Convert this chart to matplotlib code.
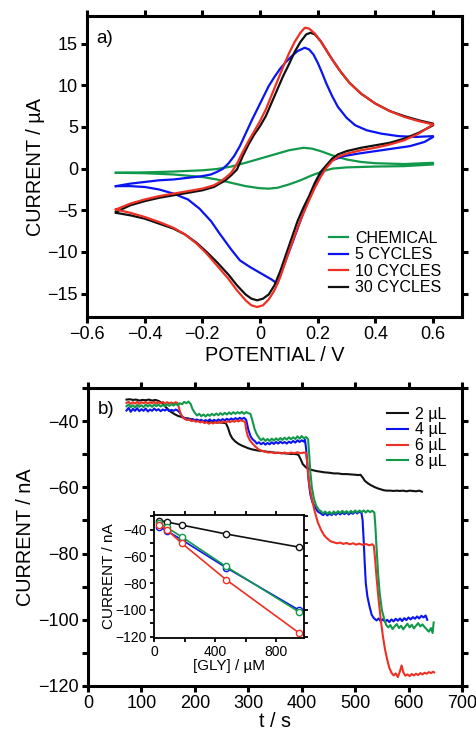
import matplotlib
matplotlib.use("Agg")
import matplotlib.pyplot as plt
from matplotlib.ticker import MultipleLocator, FuncFormatter

plt.rcParams['font.family'] = ['Liberation Sans', 'DejaVu Sans']

# ---------- panel a) cyclic voltammograms (forward scan then reverse scan) ----------
chem_E = [-0.50, -0.40, -0.30, -0.20, -0.15, -0.10, -0.05, 0.00, 0.05, 0.10, 0.15, 0.18, 0.21, 0.25, 0.30,
          0.35, 0.40, 0.50, 0.60,
          0.60, 0.50, 0.40, 0.30, 0.25, 0.22, 0.18, 0.14, 0.10, 0.06, 0.03, 0.00, -0.05, -0.10, -0.15,
          -0.20, -0.30, -0.40, -0.50]
chem_I = [-0.5, -0.45, -0.35, -0.2, -0.05, 0.25, 0.7, 1.2, 1.7, 2.2, 2.5, 2.4, 2.1, 1.6, 1.1,
          0.8, 0.65, 0.55, 0.7,
          0.5, 0.3, 0.25, 0.15, 0.0, -0.3, -0.8, -1.4, -1.9, -2.3, -2.4, -2.35, -2.1, -1.7, -1.3,
          -1.0, -0.7, -0.55, -0.5]

c5_E = [-0.50, -0.45, -0.40, -0.35, -0.30, -0.25, -0.20, -0.17, -0.15, -0.13, -0.11, -0.09, -0.07, -0.05,
        -0.03, -0.01, 0.01, 0.03, 0.05, 0.07, 0.09, 0.11, 0.13, 0.155, 0.17, 0.185, 0.20, 0.215, 0.23,
        0.25, 0.27, 0.30, 0.33, 0.37, 0.42, 0.48, 0.54, 0.60,
        0.60, 0.57, 0.52, 0.46, 0.40, 0.34, 0.29, 0.25, 0.23, 0.21, 0.19, 0.17, 0.15, 0.13, 0.11, 0.09,
        0.07, 0.06, 0.04, 0.02, 0.00, -0.035, -0.07, -0.10, -0.14, -0.17, -0.21, -0.25, -0.30, -0.35,
        -0.40, -0.45, -0.50]
c5_I = [-2.1, -1.8, -1.6, -1.4, -1.3, -1.1, -0.9, -0.7, -0.4, -0.05, 0.6, 1.5, 2.7, 4.2,
        5.7, 7.1, 8.5, 9.9, 11.0, 12.0, 12.8, 13.5, 14.1, 14.5, 14.3, 13.7, 12.7, 11.5, 10.2,
        8.7, 7.4, 6.1, 5.2, 4.6, 4.2, 3.9, 3.8, 3.9,
        3.8, 3.2, 2.7, 2.4, 2.1, 1.8, 1.5, 1.0, 0.3, -0.6, -1.9, -3.5, -5.3, -7.2, -9.1, -10.9,
        -12.8, -13.8, -13.3, -12.9, -12.5, -11.8, -11.0, -9.7, -7.8, -6.3, -4.8, -3.7, -3.0, -2.5,
        -2.2, -2.1, -2.1]

c10_E = [-0.50, -0.45, -0.40, -0.35, -0.30, -0.25, -0.20, -0.16, -0.14, -0.12, -0.10, -0.08, -0.06, -0.04,
         -0.02, 0.00, 0.02, 0.04, 0.06, 0.08, 0.10, 0.12, 0.14, 0.155, 0.17, 0.19, 0.21, 0.23, 0.25,
         0.28, 0.31, 0.35, 0.40, 0.45, 0.50, 0.55, 0.60,
         0.60, 0.55, 0.50, 0.45, 0.40, 0.35, 0.30, 0.27, 0.25, 0.23, 0.21, 0.19, 0.17, 0.15, 0.13, 0.11,
         0.09, 0.07, 0.05, 0.03, 0.01, -0.01, -0.03, -0.05, -0.08, -0.11, -0.15, -0.185, -0.22, -0.26,
         -0.30, -0.35, -0.40, -0.45, -0.50]
c10_I = [-4.9, -4.2, -3.7, -3.3, -3.0, -2.7, -2.4, -2.0, -1.6, -1.1, -0.5, 0.6, 2.0, 3.3,
         4.5, 5.7, 7.1, 8.8, 10.5, 12.2, 13.8, 15.2, 16.3, 16.9, 16.8, 16.2, 15.3, 14.2, 13.1,
         11.6, 10.3, 9.0, 7.8, 6.9, 6.2, 5.7, 5.3,
         5.3, 4.2, 3.4, 2.9, 2.5, 2.2, 1.8, 1.4, 0.9, 0.1, -1.0, -2.3, -3.8, -5.4, -7.1, -9.0,
         -11.0, -13.0, -14.6, -15.7, -16.4, -16.6, -16.4, -15.8, -14.6, -13.2, -11.6, -10.2, -9.0, -7.9,
         -7.1, -6.4, -5.8, -5.3, -4.9]

c30_E = [-0.50, -0.45, -0.40, -0.35, -0.30, -0.25, -0.20, -0.16, -0.14, -0.12, -0.10, -0.08, -0.06, -0.04,
         -0.02, 0.00, 0.02, 0.04, 0.06, 0.08, 0.10, 0.12, 0.14, 0.16, 0.175, 0.19, 0.21, 0.23, 0.25,
         0.28, 0.31, 0.35, 0.40, 0.45, 0.50, 0.55, 0.60,
         0.60, 0.55, 0.50, 0.45, 0.40, 0.35, 0.30, 0.27, 0.25, 0.23, 0.21, 0.19, 0.17, 0.15, 0.13, 0.11,
         0.10, 0.09, 0.07, 0.05, 0.03, 0.01, -0.01, -0.03, -0.05, -0.08, -0.11, -0.15, -0.185, -0.22,
         -0.26, -0.30, -0.35, -0.40, -0.45, -0.50]
c30_I = [-5.2, -4.4, -3.9, -3.5, -3.2, -2.9, -2.6, -2.2, -1.8, -1.4, -0.8, -0.1, 1.5, 2.9,
         4.1, 5.1, 6.3, 7.9, 9.5, 11.1, 12.5, 14.0, 15.2, 16.1, 16.3, 16.1, 15.3, 14.2, 13.1,
         11.6, 10.3, 9.0, 7.8, 6.9, 6.3, 5.8, 5.4,
         5.2, 4.3, 3.6, 3.1, 2.8, 2.5, 2.1, 1.7, 1.2, 0.4, -0.4, -1.7, -3.3, -4.7, -6.3, -8.3,
         -9.3, -10.3, -12.3, -14.0, -15.1, -15.6, -15.8, -15.6, -15.1, -14.0, -12.7, -11.2, -10.0, -8.9,
         -7.9, -7.2, -6.6, -6.0, -5.6, -5.3]

# ---------- panel b) amperometric traces ----------
t2 = [72, 78, 84, 90, 96, 102, 108, 114, 120, 126, 132, 138, 144, 150, 156, 162, 168, 174, 180, 186,
      192, 198, 204, 210, 216, 222, 228, 234, 240, 246, 252, 258, 262, 266, 270, 276, 282, 288, 294, 300,
      306, 312, 318, 324, 330, 336, 342, 348, 354, 360, 366, 372, 378, 384, 390, 394, 398, 402, 408, 414,
      420, 428, 436, 444, 452, 460, 468, 476, 484, 492, 500, 506, 510, 514, 518, 524, 530, 536, 542, 548,
      554, 560, 566, 572, 578, 584, 590, 596, 602, 608, 614, 620, 625]
i2 = [-33.5, -33.4, -33.6, -33.5, -33.8, -33.6, -33.7, -33.5, -33.8, -33.6, -33.9, -34.5, -35.5, -36.5,
      -37.3, -37.9, -38.4, -38.7, -39.0, -39.2, -39.4, -39.6, -39.7, -39.9, -40.0, -40.1, -40.2, -40.3,
      -40.4, -40.4, -40.5, -40.6, -42.0, -44.0, -45.2, -46.2, -46.9, -47.4, -47.8, -48.2, -48.5, -48.7,
      -48.9, -49.0, -49.1, -49.3, -49.3, -49.5, -49.6, -49.6, -49.7, -49.8, -49.9, -49.9, -50.0, -50.2,
      -51.5, -53.0, -54.0, -54.5, -54.8, -55.1, -55.3, -55.5, -55.6, -55.8, -55.8, -56.0, -56.0, -56.1,
      -56.2, -56.3, -56.2, -57.0, -58.0, -58.8, -59.4, -59.9, -60.3, -60.6, -60.9, -61.0, -61.0, -61.1,
      -61.0, -61.1, -61.0, -61.2, -61.0, -61.1, -61.2, -61.0, -61.3]

t4 = [72, 76, 80, 84, 88, 92, 96, 100, 104, 108, 112, 116, 120, 124, 128, 132, 136, 140, 144, 148,
      152, 156, 160, 164, 168, 172, 176, 180, 184, 188, 192, 196, 200, 204, 208, 212, 216, 220, 224, 228,
      232, 236, 240, 244, 248, 252, 256, 260, 264, 268, 272, 276, 280, 284, 288, 292, 296, 300, 304, 308,
      312, 316, 320, 324, 328, 332, 336, 340, 344, 348, 352, 356, 360, 364, 368, 372, 376, 380, 384, 388,
      392, 396, 400, 404, 406, 408, 410, 413, 416, 420, 425, 430, 435, 440, 444, 448, 452, 456, 460, 464,
      468, 472, 476, 480, 484, 488, 492, 496, 500, 504, 508, 512, 514, 516, 518, 520, 523, 527, 531, 535,
      540, 544, 548, 552, 556, 560, 564, 568, 572, 576, 580, 584, 588, 592, 596, 600, 604, 608, 612, 616,
      620, 624, 628, 632, 635]
i4 = [-36.8, -36.0, -37.2, -36.3, -36.9, -36.1, -37.0, -36.4, -36.9, -36.2, -37.1, -36.5, -36.9, -36.2,
      -36.8, -36.4, -37.0, -36.5, -36.8, -36.3, -37.0, -36.6, -36.9, -36.5, -36.8, -37.5, -38.5, -39.2,
      -39.5, -39.2, -39.8, -39.4, -39.9, -39.5, -40.0, -39.6, -40.1, -39.7, -40.0, -39.5, -40.1, -39.6,
      -40.0, -39.5, -39.9, -39.4, -39.8, -39.3, -39.7, -39.2, -39.6, -39.1, -39.5, -39.0, -39.4, -39.0,
      -39.6, -42.5, -44.5, -45.5, -46.0, -46.8, -46.4, -47.0, -46.5, -47.1, -46.6, -47.0, -46.4, -46.9,
      -46.3, -46.8, -46.2, -46.7, -46.3, -46.8, -46.2, -46.6, -46.0, -46.5, -45.8, -46.3, -45.8, -46.2,
      -45.6, -48.0, -52.0, -58.0, -62.0, -64.5, -66.0, -67.3, -67.8, -68.4, -67.8, -68.5, -67.9, -68.4,
      -67.7, -68.3, -67.6, -68.2, -67.6, -68.1, -67.5, -68.2, -67.6, -68.0, -67.3, -67.9, -67.3, -67.8,
      -70.0, -76.0, -83.0, -89.0, -93.0, -96.0, -98.5, -99.5, -100.2, -99.6, -100.5, -99.8, -100.6,
      -100.0, -100.7, -99.9, -100.5, -99.7, -100.3, -99.6, -100.4, -99.5, -100.1, -99.3, -99.9, -99.2,
      -99.7, -99.0, -99.6, -98.8, -99.3, -98.7, -100.0]

t6 = [72, 76, 80, 84, 88, 92, 96, 100, 104, 108, 112, 116, 120, 124, 128, 132, 136, 140, 144, 148,
      152, 156, 160, 164, 168, 171, 174, 178, 182, 186, 190, 194, 198, 202, 206, 210, 214, 218, 222, 226,
      230, 234, 238, 242, 246, 250, 254, 258, 262, 266, 270, 274, 278, 282, 286, 290, 294, 296, 299, 303,
      308, 314, 320, 326, 332, 338, 344, 350, 356, 362, 368, 374, 380, 386, 392, 398, 404, 408, 410, 412,
      415, 419, 424, 430, 436, 442, 448, 454, 460, 466, 472, 478, 484, 490, 496, 502, 508, 514, 520, 526,
      532, 535, 537, 540, 544, 548, 552, 556, 560, 564, 568, 572, 576, 580, 584, 587, 590, 594, 598, 602,
      606, 610, 614, 618, 622, 626, 630, 634, 638, 642, 646, 648]
i6 = [-34.5, -34.2, -34.8, -34.3, -34.7, -34.2, -34.8, -34.3, -34.6, -34.2, -34.7, -34.3, -34.6, -34.2,
      -34.7, -34.3, -34.6, -34.2, -34.7, -34.3, -34.6, -34.4, -34.7, -34.3, -34.6, -36.5, -38.0, -39.0,
      -39.3, -39.7, -39.5, -40.0, -39.8, -40.2, -40.0, -40.4, -40.1, -40.6, -40.3, -40.8, -40.4, -40.7,
      -40.3, -40.6, -40.2, -40.5, -40.1, -40.4, -40.0, -40.3, -39.9, -40.2, -39.8, -40.1, -39.7, -40.0,
      -40.2, -42.5, -44.5, -45.8, -46.8, -47.8, -48.6, -49.0, -49.3, -49.5, -49.4, -49.7, -49.5, -49.8,
      -49.5, -49.8, -49.5, -49.7, -49.4, -49.7, -49.5, -49.6, -52.0, -56.0, -60.0, -63.5, -67.0, -70.5,
      -72.8, -74.5, -75.5, -76.3, -76.6, -76.9, -76.7, -77.1, -76.8, -77.2, -76.9, -77.3, -77.0, -77.4,
      -77.1, -77.5, -77.2, -77.6, -81.0, -87.0, -94.0, -100.0, -105.0, -109.0, -112.0, -114.5, -116.0,
      -116.8, -116.2, -117.3, -115.5, -113.8, -115.8, -116.9, -116.5, -117.0, -116.4, -116.8, -116.3,
      -116.7, -116.1, -116.5, -116.0, -116.3, -115.8, -116.1, -115.7, -115.9]

t8 = [72, 76, 80, 84, 88, 92, 96, 100, 104, 108, 112, 116, 120, 124, 128, 132, 136, 140, 144, 148,
      152, 156, 160, 164, 168, 172, 176, 180, 184, 188, 192, 196, 200, 204, 208, 212, 216, 220, 224, 228,
      232, 236, 240, 244, 248, 252, 256, 260, 264, 268, 272, 276, 280, 284, 288, 292, 296, 300, 304, 308,
      312, 316, 320, 324, 328, 332, 336, 340, 344, 348, 352, 356, 360, 364, 368, 372, 376, 380, 384, 388,
      392, 396, 400, 404, 408, 412, 414, 416, 419, 423, 427, 432, 436, 440, 444, 448, 452, 456, 460, 464,
      468, 472, 476, 480, 484, 488, 492, 496, 500, 504, 508, 512, 516, 520, 524, 528, 532, 536, 538, 540,
      543, 546, 550, 554, 558, 562, 566, 570, 574, 578, 582, 586, 590, 594, 598, 602, 606, 610, 614, 618,
      622, 626, 630, 634, 638, 642, 645, 647]
i8 = [-35.5, -35.0, -35.8, -35.2, -35.9, -35.1, -35.7, -35.2, -35.8, -35.0, -35.6, -35.1, -35.7, -35.0,
      -35.5, -35.0, -35.6, -35.1, -35.5, -34.9, -35.4, -34.9, -35.3, -34.8, -35.2, -34.6, -34.9, -34.2,
      -34.6, -34.1, -34.8, -36.5, -37.5, -38.3, -37.8, -38.5, -38.0, -38.6, -38.0, -38.4, -37.8, -38.3,
      -37.7, -38.2, -37.6, -38.1, -37.5, -38.0, -37.4, -37.9, -37.3, -37.8, -37.3, -37.7, -37.2, -37.8,
      -37.3, -37.6, -37.8, -40.0, -42.5, -44.0, -45.0, -45.8, -45.2, -46.0, -45.4, -46.0, -45.3, -45.9,
      -45.2, -45.8, -45.1, -45.7, -45.0, -45.6, -44.9, -45.5, -44.9, -45.4, -44.6, -45.3, -44.5, -45.2,
      -44.8, -45.5, -50.0, -55.0, -60.0, -63.5, -65.5, -66.8, -67.2, -67.9, -67.3, -68.0, -67.4, -68.1,
      -67.3, -67.9, -67.2, -67.8, -67.1, -67.7, -67.2, -67.8, -67.1, -67.7, -67.0, -67.6, -67.0, -67.5,
      -67.0, -67.6, -67.0, -67.5, -67.1, -67.6, -72.0, -78.0, -86.0, -92.0, -97.0, -99.5, -101.5, -102.3,
      -101.6, -102.8, -102.0, -101.3, -102.5, -101.8, -102.9, -102.0, -101.2, -102.3, -101.5, -102.6,
      -101.8, -101.0, -102.0, -101.4, -102.2, -102.9, -103.6, -102.5, -104.0, -100.8]

# ---------- inset: calibration ----------
gly_conc = [33, 83, 180, 470, 945]
cal_2 = [-33.2, -34.2, -36.5, -43.2, -53.0]
cal_4 = [-37.7, -40.8, -47.5, -68.3, -100.0]
cal_6 = [-36.3, -40.0, -50.0, -77.3, -117.0]
cal_8 = [-35.0, -38.3, -45.3, -67.5, -101.3]

green = '#11994a'
blue = '#0a14f0'
red = '#ee3024'
black = '#111111'


def style_axes(ax, lw, ticklen, labelsize):
    for s in ax.spines.values():
        s.set_linewidth(lw)
    ax.tick_params(which='both', direction='out', top=True, right=True, width=lw,
                   length=ticklen, labelsize=labelsize, pad=2)


def fmt(v, pos):
    if abs(v) < 1e-9:
        return '0'
    s = ('%g' % v)
    return s.replace('-', '\u2212')


fig = plt.figure(figsize=(4.77, 7.34), dpi=100)

# ---- a) ----
ax1 = fig.add_axes([0.1824, 0.5681, 0.786, 0.410])
ax1.plot(chem_E, chem_I, color=green, lw=1.6, label='CHEMICAL')
ax1.plot(c5_E, c5_I, color=blue, lw=1.6, label='5 CYCLES')
ax1.plot(c30_E, c30_I, color=black, lw=1.6, label='30 CYCLES')
ax1.plot(c10_E, c10_I, color=red, lw=1.6, label='10 CYCLES')
ax1.set_xlim(-0.6, 0.7)
ax1.set_ylim(-17.8, 18.3)
ax1.xaxis.set_major_locator(MultipleLocator(0.2))
ax1.yaxis.set_major_locator(MultipleLocator(5))
ax1.xaxis.set_major_formatter(FuncFormatter(fmt))
ax1.yaxis.set_major_formatter(FuncFormatter(fmt))
style_axes(ax1, 2.2, 4.5, 13)
ax1.set_xlabel('POTENTIAL / V', fontsize=14.3, labelpad=2)
ax1.set_ylabel('CURRENT / \u00b5A', fontsize=14.3, labelpad=2)
ax1.text(0.025, 0.955, 'a)', transform=ax1.transAxes, fontsize=13.5, va='top', ha='left')
h, lab = ax1.get_legend_handles_labels()
order = [0, 1, 3, 2]
ax1.legend([h[i] for i in order], [lab[i] for i in order], loc='lower right',
           bbox_to_anchor=(0.976, 0.035), frameon=False, fontsize=11.5, handlelength=1.2,
           handletextpad=0.45, labelspacing=0.1, borderaxespad=0.3)

# ---- b) ----
ax2 = fig.add_axes([0.1845, 0.0654, 0.784, 0.406])
ax2.plot(t2, i2, color=black, lw=1.5, label='2 \u00b5L')
ax2.plot(t4, i4, color=blue, lw=1.5, label='4 \u00b5L')
ax2.plot(t6, i6, color=red, lw=1.5, label='6 \u00b5L')
ax2.plot(t8, i8, color=green, lw=1.5, label='8 \u00b5L')
ax2.set_xlim(0, 700)
ax2.set_ylim(-120, -30)
ax2.xaxis.set_major_locator(MultipleLocator(100))
ax2.yaxis.set_major_locator(MultipleLocator(20))
ax2.yaxis.set_minor_locator(MultipleLocator(10))
ax2.xaxis.set_major_formatter(FuncFormatter(fmt))
ax2.yaxis.set_major_formatter(FuncFormatter(fmt))
style_axes(ax2, 2.2, 4.5, 13)
ax2.set_xlabel('t / s', fontsize=14.3, labelpad=0)
ax2.set_ylabel('CURRENT / nA', fontsize=14.3, labelpad=2)
ax2.text(0.025, 0.955, 'b)', transform=ax2.transAxes, fontsize=13.5, va='top', ha='left')
ax2.legend(loc='upper right', bbox_to_anchor=(0.99, 0.975), frameon=False, fontsize=11.5,
           handlelength=1.3, handletextpad=0.45, labelspacing=0.05, borderaxespad=0.3)

# ---- inset ----
ax3 = fig.add_axes([0.3229, 0.1308, 0.3145, 0.1676])
for y, c in [(cal_2, black), (cal_4, blue), (cal_8, green), (cal_6, red)]:
    ax3.plot(gly_conc, y, color=c, lw=1.2, marker='o', ms=4.5, mfc='white', mec=c, mew=1.0)
ax3.set_xlim(0, 980)
ax3.set_ylim(-121, -29)
ax3.xaxis.set_major_locator(MultipleLocator(400))
ax3.xaxis.set_minor_locator(MultipleLocator(200))
ax3.yaxis.set_major_locator(MultipleLocator(20))
ax3.yaxis.set_minor_locator(MultipleLocator(10))
ax3.xaxis.set_major_formatter(FuncFormatter(fmt))
ax3.yaxis.set_major_formatter(FuncFormatter(fmt))
style_axes(ax3, 1.3, 3, 10)
ax3.set_xlabel('[GLY] / \u00b5M', fontsize=11, labelpad=0)
ax3.set_ylabel('CURRENT / nA', fontsize=11, labelpad=0)

fig.savefig('out.png', dpi=100)
